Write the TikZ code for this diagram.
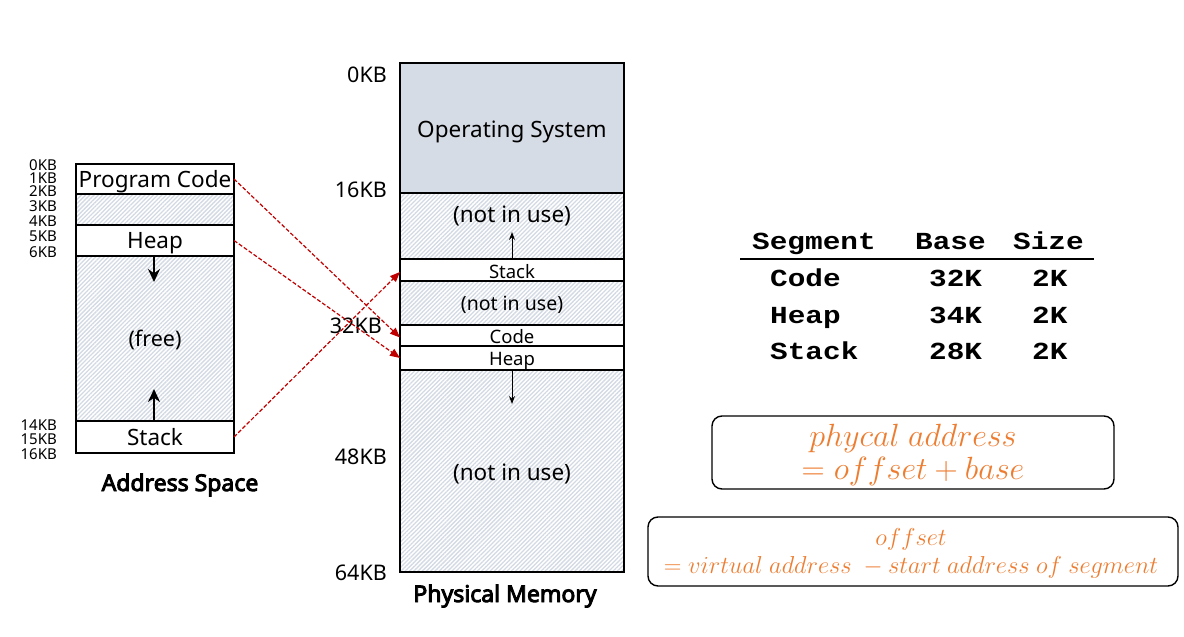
\documentclass[tikz,border=0pt]{standalone}
\usepackage[no-math]{fontspec}
\setmainfont{Noto Sans}
\newfontfamily\lblbold{Noto Sans}[FakeBold=4]
\newfontfamily\tblfont{Liberation Mono}[FakeStretch=1.2]
\usetikzlibrary{patterns.meta,arrows.meta}
\definecolor{osgray}{HTML}{D6DCE5}
\definecolor{hatchln}{HTML}{D3DAE4}
\definecolor{arrred}{HTML}{C00000}
\definecolor{fmorange}{HTML}{ED7D31}
\newcommand{\fs}[1]{\fontsize{#1}{#1}\selectfont}
\tikzset{
  segbase/.style={draw, line width=1.6pt, inner sep=0pt, outer sep=0pt, anchor=north west},
  usedseg/.style={segbase, fill=white},
  freeseg/.style={segbase, preaction={fill=white}, pattern={Lines[angle=45, distance=3pt, line width=1.3pt]}, pattern color=hatchln},
  ossegm/.style={segbase, fill=osgray},
  segtxt/.style={anchor=base, inner sep=0pt},
  kbsmall/.style={anchor=east, inner sep=0pt, font=\fs{15}},
  kbbig/.style={anchor=base east, inner sep=0pt, font=\fs{21.5}},
  mapline/.style={draw=arrred, line width=1.2pt, dash pattern=on 4pt off 2pt, -{Triangle[length=10pt,width=8pt]}},
  growthick/.style={line width=2pt, -{Stealth[length=13pt,width=12pt]}},
  growthin/.style={line width=1pt, -{Stealth[length=8pt,width=6pt]}},
  fbox/.style={draw, line width=1.4pt, rounded corners=10pt},
  tbl/.style={anchor=base west, inner sep=0pt, font=\tblfont\bfseries\fs{24.5}},
  fm/.style={inner sep=0pt, text=fmorange, font=\fs{20.74}}
}
\begin{document}
\begin{tikzpicture}[x=1pt, y=-1pt]
\useasboundingbox (0,0) rectangle (1184,637);

% ---------- Address space ----------
\node[usedseg, minimum width=158pt, minimum height=30pt] (pc) at (76,164) {};
\node[freeseg, minimum width=158pt, minimum height=31pt] (af1) at (76,194) {};
\node[usedseg, minimum width=158pt, minimum height=31pt] (aheap) at (76,225) {};
\node[freeseg, minimum width=158pt, minimum height=165pt] (afree) at (76,256) {};
\node[usedseg, minimum width=158pt, minimum height=32pt] (astack) at (76,421) {};

\node[segtxt, font=\fs{22.5}] (pct) at (155,187) {Program Code};
\node[segtxt, font=\fs{22.5}] (aht) at (155,248) {Heap};
\node[segtxt, font=\fs{21.5}] (aft) at (155,346) {(free)};
\node[segtxt, font=\fs{22.5}] (ast) at (155,445) {Stack};

\node[kbsmall] (k0) at (57,165) {0KB};
\node[kbsmall] (k1) at (57,178) {1KB};
\node[kbsmall] (k2) at (57,191) {2KB};
\node[kbsmall] (k3) at (57,206) {3KB};
\node[kbsmall] (k4) at (57,221) {4KB};
\node[kbsmall] (k5) at (57,236) {5KB};
\node[kbsmall] (k6) at (57,252) {6KB};
\node[kbsmall] (k14) at (57,425) {14KB};
\node[kbsmall] (k15) at (57,439) {15KB};
\node[kbsmall] (k16) at (57,454) {16KB};

\coordinate (hd) at (154,282);
\coordinate (su) at (154,389);
\draw[growthick] (aheap.south -| hd) -- (hd);
\draw[growthick] (astack.north -| su) -- (su);

\node[segtxt, font=\lblbold\fs{23}] (aslabel) at (180,491) {Address Space};

% ---------- Physical memory ----------
\node[ossegm, minimum width=224pt, minimum height=130pt] (os) at (400,63) {};
\node[freeseg, minimum width=224pt, minimum height=66pt] (pf1) at (400,193) {};
\node[usedseg, minimum width=224pt, minimum height=22pt] (pstack) at (400,259) {};
\node[freeseg, minimum width=224pt, minimum height=44pt] (pf2) at (400,281) {};
\node[usedseg, minimum width=224pt, minimum height=21pt] (pcode) at (400,325) {};
\node[usedseg, minimum width=224pt, minimum height=24pt] (pheap) at (400,346) {};
\node[freeseg, minimum width=224pt, minimum height=202pt] (pf3) at (400,370) {};

\node[segtxt, font=\fs{22.5}] (ost) at (512,137) {Operating System};
\node[segtxt, font=\fs{22.5}] (pf1t) at (512,222) {(not in use)};
\node[segtxt, font=\fs{18.5}] (pst) at (512,278) {Stack};
\node[segtxt, font=\fs{19.5}] (pf2t) at (512,310) {(not in use)};
\node[segtxt, font=\fs{18.5}] (pct2) at (512,343) {Code};
\node[segtxt, font=\fs{18.5}] (pht) at (512,365) {Heap};
\node[segtxt, font=\fs{22.5}] (pf3t) at (512,480) {(not in use)};

\coordinate (su2) at (512,232);
\coordinate (hd2) at (512,404);
\draw[growthin] (pstack.north) -- (su2);
\draw[growthin] (pheap.south) -- (hd2);

\node[kbbig] (m0) at (387,82) {0KB};
\node[kbbig] (m16) at (387,197) {16KB};
\node[kbbig] (m32) at (382,333) {32KB};
\node[kbbig] (m48) at (387,464) {48KB};
\node[kbbig] (m64) at (387,580) {64KB};

\node[segtxt, font=\lblbold\fs{23}] (pmlabel) at (505,602) {Physical Memory};

% ---------- mapping ----------
\draw[mapline] (pc.east) -- ([yshift=-2pt]pcode.west);
\draw[mapline] (aheap.east) -- (pheap.west);
\draw[mapline] (astack.east) -- ([yshift=-2pt]pstack.west);

% ---------- table ----------
\node[tbl] (hseg) at (752,249) {Segment};
\node[tbl] (hbase) at (915,249) {Base};
\node[tbl] (hsize) at (1013,249) {Size};
\coordinate (rl) at (740,259);
\coordinate (rr) at (1094,259);
\draw[line width=2pt] (rl) -- (rr);
\node[tbl] (c1) at (770,286) {Code};
\node[tbl] (c2) at (929,286) {32K};
\node[tbl] (c3) at (1032,286) {2K};
\node[tbl] (h1) at (770,323) {Heap};
\node[tbl] (h2) at (929,323) {34K};
\node[tbl] (h3) at (1032,323) {2K};
\node[tbl] (s1) at (770,359) {Stack};
\node[tbl] (s2) at (929,359) {28K};
\node[tbl] (s3) at (1032,359) {2K};

% ---------- formulas ----------
\coordinate (b1a) at (712,416);
\coordinate (b1b) at (1114,489);
\draw[fbox] (b1a) rectangle (b1b);
\node[fm] (f1a) at (913,438) {\scalebox{1.55}{$phycal\ address$}};
\node[fm] (f1b) at (913,471) {\scalebox{1.55}{$= offset + base$}};

\coordinate (b2a) at (648,517);
\coordinate (b2b) at (1178,586);
\draw[fbox] (b2a) rectangle (b2b);
\node[fm] (f2a) at (911,539) {\scalebox{1.18}{$offset$}};
\node[fm] (f2b) at (911,567) {\scalebox{1.18}{$= virtual\ address\ - start\ address\ of\ segment$}};
\end{tikzpicture}
\end{document}
